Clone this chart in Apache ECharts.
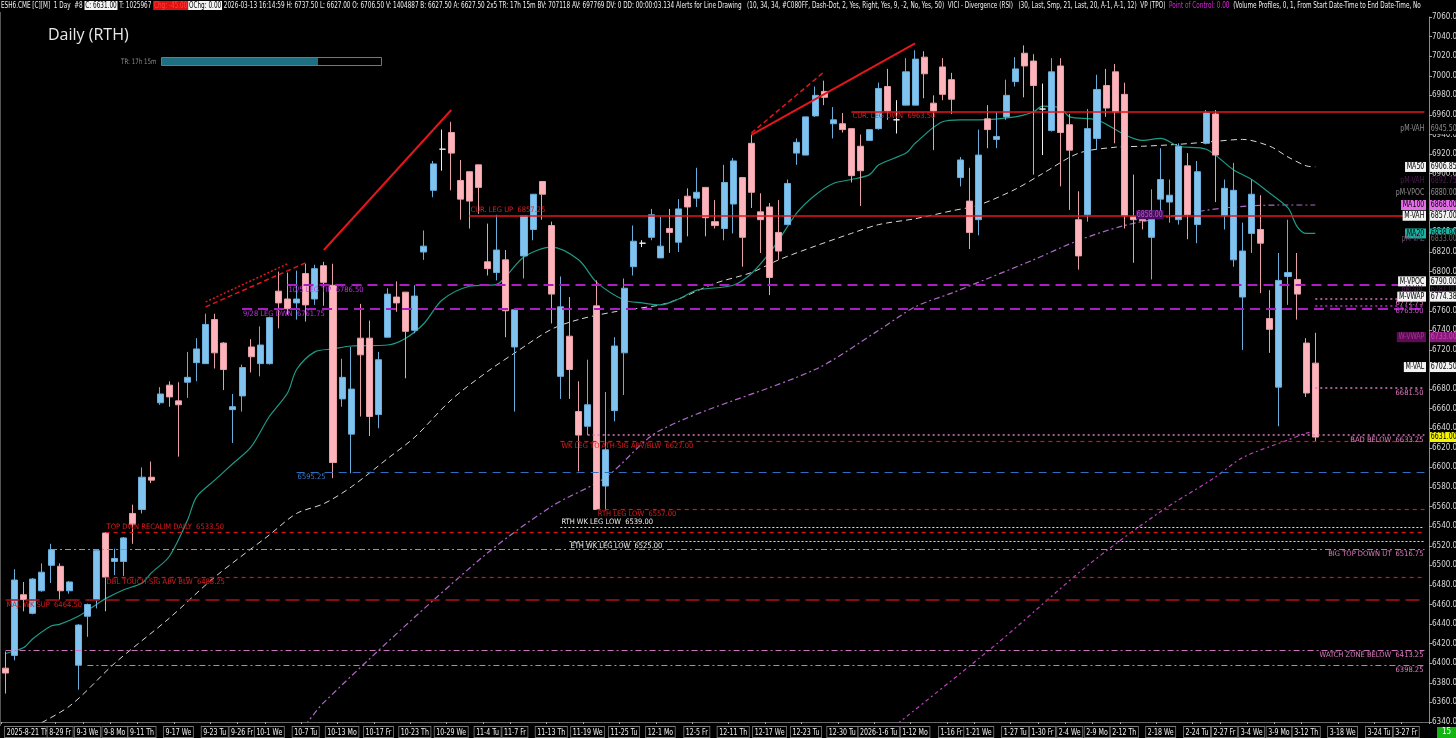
<!DOCTYPE html>
<html><head><meta charset="utf-8">
<script src="https://cdn.jsdelivr.net/npm/echarts@6/dist/echarts.min.js"></script>
<style>html,body{margin:0;padding:0;background:#000;}#c{width:1456px;height:738px;}</style>
</head><body><div id="c"></div>
<script>
// ---------- DATA ----------
const dates = ['2025-08-21','2025-08-22','2025-08-25','2025-08-26','2025-08-27','2025-08-28','2025-08-29',
'2025-09-01','2025-09-02','2025-09-03','2025-09-04','2025-09-05','2025-09-08','2025-09-09','2025-09-10','2025-09-11','2025-09-12','2025-09-15','2025-09-16','2025-09-17','2025-09-18','2025-09-19','2025-09-22','2025-09-23','2025-09-24','2025-09-25','2025-09-26','2025-09-29','2025-09-30',
'2025-10-01','2025-10-02','2025-10-03','2025-10-06','2025-10-07','2025-10-08','2025-10-09','2025-10-10','2025-10-13','2025-10-14','2025-10-15','2025-10-16','2025-10-17','2025-10-20','2025-10-21','2025-10-22','2025-10-23','2025-10-24','2025-10-27','2025-10-28','2025-10-29','2025-10-30','2025-10-31',
'2025-11-03','2025-11-04','2025-11-05','2025-11-06','2025-11-07','2025-11-10','2025-11-11','2025-11-12','2025-11-13','2025-11-14','2025-11-17','2025-11-18','2025-11-19','2025-11-20','2025-11-21','2025-11-24','2025-11-25','2025-11-26','2025-11-27','2025-11-28',
'2025-12-01','2025-12-02','2025-12-03','2025-12-04','2025-12-05','2025-12-08','2025-12-09','2025-12-10','2025-12-11','2025-12-12','2025-12-15','2025-12-16','2025-12-17','2025-12-18','2025-12-19','2025-12-22','2025-12-23','2025-12-24','2025-12-26','2025-12-29','2025-12-30','2025-12-31',
'2026-01-02','2026-01-05','2026-01-06','2026-01-07','2026-01-08','2026-01-09','2026-01-12','2026-01-13','2026-01-14','2026-01-15','2026-01-16','2026-01-19','2026-01-20','2026-01-21','2026-01-22','2026-01-23','2026-01-26','2026-01-27','2026-01-28','2026-01-29','2026-01-30',
'2026-02-02','2026-02-03','2026-02-04','2026-02-05','2026-02-06','2026-02-09','2026-02-10','2026-02-11','2026-02-12','2026-02-13','2026-02-16','2026-02-17','2026-02-18','2026-02-19','2026-02-20','2026-02-23','2026-02-24','2026-02-25','2026-02-26','2026-02-27',
'2026-03-02','2026-03-03','2026-03-04','2026-03-05','2026-03-06','2026-03-09','2026-03-10','2026-03-11','2026-03-12','2026-03-13',
'2026-03-16','2026-03-17','2026-03-18','2026-03-19','2026-03-20','2026-03-23','2026-03-24','2026-03-25','2026-03-26','2026-03-27','2026-03-30','2026-03-31'];

const open = [6395,6408,6470,6451,6474,6500,6499,6474,6398,6448, 6465,6533,6504,6504,6553,6557,6590,6666,6684,6668,
 6687,6707,6706,6751,6727,6659,6673,6723,6706,6706, 6780,6772,6768,6798,6772,6806,6786,6670,6634,6732,
 6732,6654,6733,6774,6779,6740,6820,6883,6925,6942, 6893,6902,6909,6810,6799,6812,6723,6816,6843,6892,
 6847,6693,6734,6657,6642,6765,6581,6658,6717,6805, 6829,6835,6814,6844,6830,6877,6875,6886,6851,6844,
 6869,6896,6931,6861,6866,6840,6848,6921,6919,6959, 6984,6951,6951,6946,6928,6934,6946,6989,6955,6970,
 6970,7019,6972,7009,6996,6896,6872,6853,6956,6935, 6958,6994,7023,7015,6966,6944,7010,6950,6853,6858,
 6936,6990,7004,6981,6856,6855,6835,6874,6871,6853, 6908,6848,6931,6961,6857,6812,6774,6839,6843,6752,
 6682,6795,6792,6727,6706.5];
const high = [6412,6496,6483,6487,6502,6522,6502,6484,6440,6461, 6516,6534,6517,6529,6562,6600,6606,6682,6688,6687,
 6718,6732,6757,6757,6728,6675,6705,6731,6744,6754, 6800,6799,6801,6808,6807,6810,6808,6711,6723,6767,
 6750,6718,6783,6790,6779,6786,6842,6913,6945,6953, 6914,6902,6909,6849,6858,6822,6762,6857,6879,6892,
 6851,6795,6774,6688,6710,6791,6677,6733,6793,6847, 6832,6864,6856,6864,6874,6885,6906,6886,6873,6909,
 6916,6896,6940,6880,6870,6873,6894,6936,6958,6989, 6995,6968,6962,6946,6940,6945,6993,7007,6975,7018,
 7026,7025,6980,7018,7003,6917,6906,6945,6970,6963, 6996,7019,7031,7022,6992,7018,7018,6961,6882,6966,
 7001,7007,7012,6993,6899,6860,6884,6926,6894,6931, 6921,6913,6965,6965,6894,6911,6850,6894,6878,6781,
 6819,6853,6819,6732,6737.5];
const low = [6369,6403,6453,6450,6473,6482,6465,6471,6373,6427, 6456,6453,6490,6489,6522,6553,6584,6664,6662,6611,
 6671,6688,6706,6701,6679,6625,6657,6697,6693,6705, 6742,6756,6751,6749,6766,6765,6589,6662,6594,6652,
 6632,6640,6733,6759,6691,6737,6812,6876,6903,6883, 6853,6844,6859,6796,6791,6733,6657,6793,6832,6853,
 6747,6670,6670,6596,6633,6557,6556,6647,6674,6796, 6825,6832,6814,6819,6820,6836,6866,6836,6844,6832,
 6839,6805,6865,6819,6776,6812,6848,6909,6919,6958, 6970,6936,6942,6891,6867,6934,6945,6955,6941,6970,
 6970,6977,6924,6975,6961,6887,6823,6837,6926,6926, 6955,6989,6978,6899,6919,6943,6887,6863,6802,6851,
 6925,6958,6931,6844,6809,6843,6792,6862,6850,6848, 6833,6829,6930,6871,6843,6805,6720,6819,6778,6717,
 6642,6766,6751,6672,6627];
const close = [6390,6485,6465,6486,6493,6516,6474,6483,6439,6460, 6515,6488,6507,6528,6542,6590,6587,6675,6672,6664,
 6692,6721,6746,6717,6700,6662,6702,6713,6725,6753, 6768,6762,6772,6766,6803,6789,6605,6692,6680,6715,
 6652,6710,6777,6768,6739,6775,6826,6910,6925,6921, 6874,6872,6886,6803,6822,6760,6761,6857,6879,6879,
 6777,6764,6700,6633,6664,6557,6618,6724,6783,6831, 6829,6858,6826,6840,6864,6866,6881,6855,6847,6891,
 6913,6835,6881,6853,6794,6821,6890,6932,6958,6980, 6978,6955,6945,6898,6903,6945,6987,6964,6955,7004,
 7017,7002,6964,6981,6976,6914,6840,6919,6945,6938, 6980,7007,7010,6990,6966,7004,6942,6924,6816,6946,
 6986,6967,6963,6857,6853,6852,6862,6894,6878,6928, 6858,6902,6962,6919,6885,6883,6821,6879,6829,6741,
 6791,6799,6777,6676,6631];

const tickDates = ['2025-08-21','2025-08-29','2025-09-03','2025-09-08','2025-09-11','2025-09-17','2025-09-23','2025-09-26','2025-10-01','2025-10-07','2025-10-13','2025-10-17','2025-10-23','2025-10-29','2025-11-04','2025-11-07','2025-11-13','2025-11-19','2025-11-25','2025-12-01','2025-12-05','2025-12-11','2025-12-17','2025-12-23','2025-12-30','2026-01-06','2026-01-12','2026-01-16','2026-01-21','2026-01-27','2026-01-30','2026-02-04','2026-02-09','2026-02-12','2026-02-18','2026-02-24','2026-02-27','2026-03-04','2026-03-09','2026-03-12','2026-03-18','2026-03-24','2026-03-27'];

const ma20 = [['2025-08-21',6410],['2025-08-25',6416],['2025-08-26',6425],['2025-08-28',6438],['2025-08-29',6440],['2025-09-02',6448],['2025-09-04',6460],['2025-09-05',6466],['2025-09-09',6475],['2025-09-11',6482],['2025-09-12',6492],['2025-09-16',6509],['2025-09-18',6546],['2025-09-19',6570],['2025-09-23',6587],['2025-09-25',6604],['2025-09-29',6621],['2025-10-01',6652],['2025-10-03',6676],['2025-10-06',6700],['2025-10-08',6718],['2025-10-10',6721],['2025-10-14',6724],['2025-10-20',6725],['2025-10-22',6732],['2025-10-24',6747],['2025-10-28',6771],['2025-10-31',6785],['2025-11-05',6787],['2025-11-06',6795],['2025-11-10',6815],['2025-11-13',6825],['2025-11-18',6812],['2025-11-20',6789],['2025-11-25',6771],['2025-11-27',6768],['2025-12-01',6766],['2025-12-03',6772],['2025-12-05',6781],['2025-12-11',6786],['2025-12-15',6798],['2025-12-17',6819],['2025-12-18',6832],['2025-12-22',6860],['2025-12-24',6878],['2025-12-29',6890],['2025-12-31',6894],['2026-01-05',6899],['2026-01-06',6909],['2026-01-09',6921],['2026-01-12',6931],['2026-01-15',6953],['2026-01-19',6955],['2026-01-21',6955],['2026-01-27',6958],['2026-01-29',6963],['2026-01-30',6969],['2026-02-03',6967],['2026-02-04',6958],['2026-02-09',6955],['2026-02-12',6940],['2026-02-16',6934],['2026-02-18',6936],['2026-02-20',6928],['2026-02-25',6925],['2026-03-02',6904],['2026-03-04',6894],['2026-03-06',6880],['2026-03-10',6865],['2026-03-11',6846],['2026-03-12',6839],['2026-03-13',6839]];

const ma50 = [['2025-08-25',6330],['2025-09-01',6356],['2025-09-08',6400],['2025-09-16',6446],['2025-09-23',6488],['2025-10-01',6531],['2025-10-06',6553],['2025-10-09',6563],['2025-10-14',6580],['2025-10-20',6609],['2025-10-23',6631],['2025-10-29',6669],['2025-11-04',6698],['2025-11-07',6717],['2025-11-13',6741],['2025-11-18',6751],['2025-11-24',6759],['2025-12-01',6766],['2025-12-03',6772],['2025-12-09',6788],['2025-12-15',6799],['2025-12-18',6812],['2025-12-24',6826],['2025-12-31',6839],['2026-01-06',6848],['2026-01-12',6854],['2026-01-16',6862],['2026-01-21',6868],['2026-01-27',6884],['2026-01-30',6900],['2026-02-05',6921],['2026-02-11',6927],['2026-02-16',6928],['2026-02-20',6930],['2026-02-26',6933],['2026-03-03',6935],['2026-03-06',6928],['2026-03-10',6917],['2026-03-12',6908],['2026-03-13',6907]];

const ma100 = [['2025-10-06',6324],['2025-10-09',6360],['2025-11-03',6505],['2025-11-13',6560],['2025-11-21',6590],['2025-12-01',6638],['2025-12-24',6700],['2026-01-06',6740],['2026-01-12',6764],['2026-01-16',6778],['2026-01-22',6793],['2026-01-29',6812],['2026-02-05',6832],['2026-02-12',6847],['2026-02-20',6858],['2026-02-27',6865],['2026-03-09',6868],['2026-03-13',6868]];

const ma200 = [['2026-01-06',6323],['2026-01-23',6420],['2026-02-06',6500],['2026-02-18',6555],['2026-02-26',6590],['2026-03-03',6610],['2026-03-10',6628],['2026-03-12',6635],['2026-03-13',6637]];

// horizontal levels: [label, price, start date, label side]
const levels = [
 ['CUR. LEG DWN', 6963.50, '2025-12-31', 'startBelow'],
 ['CUR. LEG UP', 6857.25, '2025-10-31', 'startAbove'],
 ['10/5 LEG TIP', 6786.50, '2025-10-03', 'startBelow'],
 ['9/28 LEG DWN', 6761.75, '2025-09-26', 'startBelow'],
 ['', 6772.75, '2026-03-13', 'endBelow'],
 ['', 6765.00, '2026-03-13', 'endBelow'],
 ['', 6681.50, '2026-03-13', 'endBelow'],
 ['BAD BELOW', 6633.25, '2025-11-19', 'endBelow'],
 ['WK LEG TO ATH-SIG ABV/BLW', 6627.00, '2025-11-14', 'startBelow'],
 ['', 6595.25, '2025-10-06', 'startBelow'],
 ['RTH LEG LOW', 6557.00, '2025-11-20', 'startBelow'],
 ['RTH WK LEG LOW', 6539.00, '2025-11-14', 'startAbove'],
 ['TOP DWN RECALIM DAILY', 6533.50, '2025-09-05', 'startAbove'],
 ['ETH WK LEG LOW', 6525.00, '2025-11-17', 'startBelow'],
 ['BIG TOP DOWN UT', 6516.75, '2025-08-28', 'endBelow'],
 ['DBL TOUCH-SIG ABV BLW', 6488.25, '2025-09-05', 'startBelow'],
 ['MAJ. WK SUP', 6464.50, '2025-08-21', 'startBelow'],
 ['WATCH ZONE BELOW', 6413.25, '2025-08-21', 'endBelow'],
 ['', 6398.25, '2025-09-03', 'endBelow']
];
const levelStyles = ['redSolid','redSolid','purpleDash','purpleDash','pinkDot','magentaDot','pinkDot','pinkDot','redDash','blueDash','redDash','whiteDot','redDash','whiteDot','pinkDashDot','redDash','darkRedDash','pinkDashDot','pinkDashDot'];

// drawn trend lines: [start date, start price, end date, end price]
const trendLines = [
 ['2025-10-09', 6822, '2025-10-29', 6965],
 ['2025-09-22', 6764, '2025-10-07', 6809],
 ['2025-09-22', 6769, '2025-10-03', 6808],
 ['2025-12-15', 6939.5, '2026-01-12', 7033],
 ['2025-12-15', 6941.5, '2025-12-26', 7004]
];
const trendStyles = ['solid','dash','dot','solid','dash'];

// right-side value tags: [name, value]
const tags = [
 ['pM-VAH', 6945.50], ['MA50', 6906.85], ['pM-VAH', 6892.75], ['pM-VPOC', 6880.00], ['MA100', 6868.00],
 ['M-VAH', 6857.00], ['MA20', 6838.94], ['pM-VAL', 6833.00], ['M-VPOC', 6790.00], ['pM-VAL', 6781.00],
 ['M-VWAP', 6774.38], ['W-VWAP', 6733.00], ['M-VAL', 6702.50], ['', 6631.00]
];
const tagStyles = ['grey','white','dim','grey','magenta','white','teal','dimgrey','white','dim','white','plum','white','yellow'];

// ---------- CHART ----------
const FONT = "'Liberation Sans Narrow','DejaVu Sans Condensed','Roboto Condensed','Liberation Sans',sans-serif";
const chart = echarts.init(document.getElementById('c'));
const candle = open.map((o, i) => [o, close[i], low[i], high[i]]);
const lastCat = dates[dates.length - 1];
const WD = ['Su','Mo','Tu','We','Th','Fr','Sa'];
function fmtDate(v) {
  const p = v.split('-').map(Number);
  const wd = WD[new Date(Date.UTC(p[0], p[1]-1, p[2])).getUTCDay()];
  const idx = tickDates.indexOf(v);
  const showYear = idx === 0 || (idx > 0 && tickDates[idx-1].slice(0,4) !== v.slice(0,4));
  return (showYear ? p[0] + '-' : '') + p[1] + '-' + p[2] + ' ' + wd;
}
const LS = {
  redSolid: {color:'#e3161b', type:'solid', width:1.5},
  purpleDash: {color:'#a81fc0', type:[10,6], width:2},
  pinkDot: {color:'#d77ab8', type:[2,3], width:1.5},
  magentaDot: {color:'#b030c0', type:[2,3], width:1.5},
  redDash: {color:'#d8141a', type:[4,4], width:1.2},
  blueDash: {color:'#2f6fc0', type:[8,6], width:1.2},
  whiteDot: {color:'#e0e0e0', type:[2,2], width:1},
  pinkDashDot: {color:'#d070c0', type:[6,3,2,3], width:1.2},
  darkRedDash: {color:'#b01218', type:[14,6], width:1.5}
};
const LC = { redSolid:'#e02020', purpleDash:'#c030e0', pinkDot:'#e07cc0', magentaDot:'#d050d0', redDash:'#e01c1c', blueDash:'#3a7ad0', whiteDot:'#f0f0f0', pinkDashDot:'#e07cc0', darkRedDash:'#e01c1c' };

const markData = [];
levels.forEach((L, i) => {
  const st = levelStyles[i];
  const txt = (L[0] ? L[0] + '  ' : '') + L[1].toFixed(2);
  const pos = {startBelow:'insideStartBottom', startAbove:'insideStartTop', endBelow:'insideEndBottom'}[L[3]];
  markData.push([
    {coord:[L[2], L[1]], lineStyle: LS[st],
     label:{show:true, formatter: txt, position: pos, distance: 1, color: LC[st], fontSize: 7.5, fontFamily: FONT}},
    {coord:[lastCat, L[1]]}
  ]);
});
trendLines.forEach((T, i) => {
  const t = trendStyles[i];
  markData.push([
    {coord:[T[0], T[1]], lineStyle:{color:'#e3161b', width: t === 'solid' ? 2 : 1.5, type: t === 'solid' ? 'solid' : (t === 'dash' ? [5,3] : [2,2])}, label:{show:false}},
    {coord:[T[2], T[3]]}
  ]);
});

const tickShow = (i, v) => tickDates.indexOf(v) >= 0;
const option = {
  animation: false,
  backgroundColor: '#000',
  grid: {left: 1, right: 27, top: 17, bottom: 16, containLabel: false, outerBoundsMode: 'none'},
  xAxis: {
    type: 'category', data: dates, boundaryGap: true,
    axisLine: {show: true, lineStyle: {color: '#6a6a6a'}},
    axisTick: {show: true, length: 2, interval: tickShow, lineStyle:{color:'#aaa'}},
    axisLabel: {show: false},
    splitLine: {show: false}
  },
  yAxis: {
    type: 'value', position: 'right', min: 6340, max: 7060, interval: 20,
    axisLine: {show: true, lineStyle: {color: '#8a8a8a'}},
    axisTick: {show: true, length: 3, lineStyle:{color:'#aaa'}},
    axisLabel: {formatter: v => v.toFixed(2), color: '#d8d8d8', fontSize: 8, fontFamily: FONT, margin: 3, hideOverlap: false},
    splitLine: {show: false}
  },
  series: [
    {type: 'line', data: ma50, symbol: 'none', smooth: 0.3, lineStyle: {color: '#d8d8d8', width: 1, type: [6,4]}, z: 2},
    {type: 'line', data: ma100, symbol: 'none', smooth: 0.3, lineStyle: {color: '#b068c8', width: 1.2, type: [6,3,2,3]}, z: 2},
    {type: 'line', data: ma200, symbol: 'none', smooth: 0.3, lineStyle: {color: '#c040c0', width: 1.2, type: [4,3,2,3]}, z: 2},
    {type: 'line', data: ma20, symbol: 'none', smooth: 0.3, lineStyle: {color: '#1e9a86', width: 1.2}, z: 2},
    {type: 'candlestick', data: candle, barWidth: '72%', z: 3,
      itemStyle: {color: '#7fc3ee', color0: '#ffb4bc', borderColor: '#6aaedc', borderColor0: '#e8a0a8', borderColorDoji: '#f0f0f0', borderWidth: 1},
      markLine: {symbol: ['none','none'], silent: true, animation: false, precision: 2, data: markData}
    }
  ]
};
chart.setOption(option);

// ---------- overlay texts positioned through the chart's own scales ----------
const TS = {
  grey: {nf:'#8c8c8c', nb:null, vf:'#8c8c8c', vb:null},
  white: {nf:'#000', nb:'#f2f2f2', vf:'#000', vb:'#f2f2f2'},
  dim: {nf:'#4e1a50', nb:null, vf:'#4e1a50', vb:null},
  dimgrey: {nf:'#6a506a', nb:null, vf:'#6a6a6a', vb:null},
  magenta: {nf:'#000', nb:'#e46ee8', vf:'#000', vb:'#e46ee8'},
  teal: {nf:'#000', nb:'#1cb2a2', vf:'#000', vb:'#1cb2a2'},
  plum: {nf:'#b02aa0', nb:'#5a0e50', vf:'#d040c0', vb:'#8a1a7a'},
  yellow: {nf:'#000', nb:null, vf:'#000', vb:'#f4f400'}
};
const SX = 0.82;
const g = [];
tags.forEach((t, i) => {
  const s = TS[tagStyles[i]];
  const y = chart.convertToPixel({yAxisIndex: 0}, t[1]);
  if (t[0]) g.push({type:'text', x: 1426, y: y, z: 100, scaleX: SX, style:{text: t[0], fill: s.nf, backgroundColor: s.nb || 'transparent', font: '8.5px ' + FONT, align:'right', verticalAlign:'middle', padding:[1,2,0,2]}});
  g.push({type:'text', x: 1430, y: y, z: 100, scaleX: SX, style:{text: t[1].toFixed(2), fill: s.vf, backgroundColor: s.vb || '#000', font: '8.5px ' + FONT, align:'left', verticalAlign:'middle', padding:[1,2,0,1]}});
});
// x-axis date labels at the category positions
tickDates.forEach((d, i) => {
  const x = chart.convertToPixel({xAxisIndex: 0}, d);
  g.push({type:'text', x: i === 0 ? 5 : x, y: 727, z: 100, scaleX: SX, style:{text: fmtDate(d), fill:'#f0f0f0', font:'8.5px ' + FONT,
    align: i === 0 ? 'left' : 'center', verticalAlign:'top', borderColor:'#7a7a7a', borderWidth: 1, padding:[1,2,0,2], backgroundColor:'#000'}});
});
const HF = '8px ' + FONT;
const header = '{w|ESH6.CME [C][M]  1 Day  #8 }{b|C: 6631.00}{w| T: 1025967 }{r|Chg: -45.00}{b|OChg: 0.00}{w| 2026-03-13 16:14:59 H: 6737.50 L: 6627.00 O: 6706.50 V: 1404887 B: 6627.50 A: 6627.50 2x5 TR: 17h 15m BV: 707118 AV: 697769 DV: 0 DD: 00:00:03.134 Alerts for Line Drawing   (10, 34, 34, #C080FF, Dash-Dot, 2, Yes, Right, Yes, 9, -2, No, Yes, 50)  VICI - Divergence (RSI)   (30, Last, Smp, 21, Last, 20, A-1, A-1, 12)  VP (TPO)  }{m|Point of Control: 0.00}{w|  (Volume Profiles, 0, 1, From Start Date-Time to End Date-Time, No}';
g.push({type:'text', x: 1, y: 1, z: 100, scaleX: 0.795, style:{text: header, font: HF, fill:'#f0f0f0',
  rich:{w:{fill:'#f0f0f0', font: HF}, b:{fill:'#000', backgroundColor:'#f4f4f4', font: HF, padding:[1,1,0,1]}, r:{fill:'#ff4040', backgroundColor:'#e01010', font: HF, padding:[1,1,0,1]}, m:{fill:'#e020e0', font: HF}}}});
g.push({type:'text', x: 48, y: 27, z: 100, style:{text:'Daily (RTH)', fill:'#e8e8e8', font:'16px "Open Sans","Noto Sans",sans-serif'}});
g.push({type:'text', x: 121, y: 58, z: 100, scaleX: SX, style:{text:'TR: 17h 15m', fill:'#8a8a8a', font:'7.5px ' + FONT}});
g.push({type:'rect', shape:{x:161.5, y:57.5, width:220, height:8}, z: 100, style:{fill:'#000', stroke:'#777', lineWidth:1}});
g.push({type:'rect', shape:{x:162, y:58, width:156, height:7}, z: 101, style:{fill:'#1d6f82'}});
g.push({type:'line', shape:{x1:0.5, y1:12, x2:0.5, y2:726}, z: 100, style:{stroke:'#555', lineWidth:1}});
g.push({type:'rect', shape:{x:1437, y:727, width:19, height:11}, z: 100, style:{fill:'#12b512'}});
g.push({type:'text', x: 1442, y: 728, z: 101, style:{text:'15', fill:'#fff', font:'8px ' + FONT}});
g.push({type:'text', x: 1136, y: chart.convertToPixel({yAxisIndex:0}, 6858), z: 100, scaleX: SX, style:{text:'6858.00', fill:'#c050d0', backgroundColor:'#4a1060', font:'8.5px ' + FONT, verticalAlign:'middle', padding:[0,1]}});
chart.setOption({graphic: g});
</script>
</body></html>
